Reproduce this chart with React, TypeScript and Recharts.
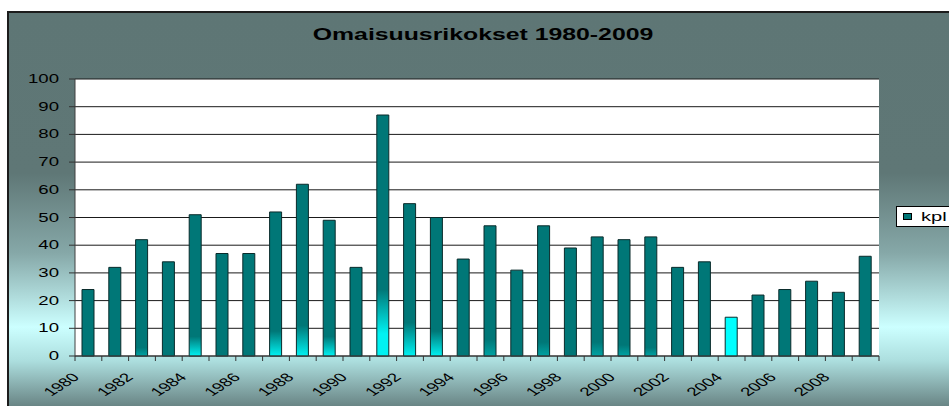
import { BarChart, Bar, XAxis, YAxis, CartesianGrid, Cell } from "recharts";

// Omaisuusrikokset vuosittain, pylvaat. Kuva on venytetty vaakasuunnassa,
// joten tekstit skaalataan scaleX:lla samaan tapaan.
const VUODET = [
  1980, 1981, 1982, 1983, 1984, 1985, 1986, 1987, 1988, 1989,
  1990, 1991, 1992, 1993, 1994, 1995, 1996, 1997, 1998, 1999,
  2000, 2001, 2002, 2003, 2004, 2005, 2006, 2007, 2008, 2009,
];
const KPL = [
  24, 32, 42, 34, 51, 37, 37, 52, 62, 49,
  32, 87, 55, 50, 35, 47, 31, 47, 39, 43,
  42, 43, 32, 34, 14, 22, 24, 27, 23, 36,
];
const Y_TICKS = [0, 10, 20, 30, 40, 50, 60, 70, 80, 90, 100];

// pylvaiden alaosan syaani hehku (korkeus yksikkoina), 0 = ei hehkua
const HOHTO = [
  0, 0, 3, 0, 7, 0, 0, 9, 11, 7,
  0, 24, 12, 9, 0, 6, 0, 5, 0, 5,
  4, 3, 0, 0, 0, 0, 0, 0, 0, 0,
];
const KOROSTETTU = 2004;

const TEAL = "#007777";
const SYAANI = "#00ffff";
const VENYTYS = 1.55;
const FONTTI = "'Liberation Sans', Arial, sans-serif";

const LEVEYS = 949;
const KORKEUS = 406;
const VASEN = 75;
const OIKEA = 879;
const PLOT_W = OIKEA - VASEN;

const data = VUODET.map((v, i) => ({ vuosi: String(v), kpl: KPL[i] }));

function VuosiTick(props: any) {
  const { x, y, payload, index } = props;
  const vali = PLOT_W / VUODET.length;
  const vuosi = Number(payload.value);
  return (
    <g>
      <line x1={x - vali / 2} x2={x - vali / 2} y1={y} y2={y + 5} stroke="#333" />
      {index === VUODET.length - 1 && (
        <line x1={x + vali / 2} x2={x + vali / 2} y1={y} y2={y + 5} stroke="#333" />
      )}
      {vuosi % 2 === 0 && (
        <text
          transform={`translate(${x - 8},${y + 22}) scale(${VENYTYS},1) rotate(-45)`}
          textAnchor="end"
          fontSize={12}
          fontFamily={FONTTI}
          fill="#000"
        >
          {payload.value}
        </text>
      )}
    </g>
  );
}

function LukuTick(props: any) {
  const { x, y, payload } = props;
  return (
    <text
      transform={`translate(${x},${y + 4}) scale(${VENYTYS},1)`}
      textAnchor="end"
      fontSize={12}
      fontFamily={FONTTI}
      fill="#000"
    >
      {payload.value}
    </text>
  );
}

function Selite() {
  return (
    <div
      style={{
        position: "absolute",
        left: 896,
        top: 206,
        boxSizing: "border-box",
        width: 70,
        height: 21,
        background: "#fff",
        border: "1px solid #000",
        display: "flex",
        alignItems: "center",
        paddingLeft: 6,
        fontFamily: FONTTI,
      }}
    >
      <span
        style={{
          boxSizing: "border-box",
          width: 9,
          height: 7,
          background: TEAL,
          border: "1px solid #000",
        }}
      />
      <span
        style={{
          marginLeft: 9,
          fontSize: 13,
          lineHeight: "13px",
          display: "inline-block",
          transform: `scaleX(${VENYTYS})`,
          transformOrigin: "left center",
        }}
      >
        kpl
      </span>
    </div>
  );
}

function tayttoVari(i: number) {
  if (VUODET[i] === KOROSTETTU) return SYAANI;
  if (HOHTO[i] > 0) return `url(#hohto-${i})`;
  return TEAL;
}

export default function App() {
  return (
    <div
      style={{
        position: "fixed",
        left: 0,
        top: 0,
        width: LEVEYS,
        height: KORKEUS,
        overflow: "hidden",
        background: "#fff",
        fontFamily: FONTTI,
      }}
    >
      <div
        style={{
          position: "absolute",
          left: 7,
          top: 11,
          width: 970,
          height: 400,
          border: "2px solid #1c1c1c",
          background:
            "linear-gradient(to bottom, #5e7675 0%, #5f7776 40%, #86a8a8 60%, #ccffff 78.5%, #acdede 87%, #657f7f 99%)",
        }}
      />
      <div
        style={{
          position: "absolute",
          left: 483,
          top: 27,
          fontSize: 16,
          lineHeight: "16px",
          fontWeight: "bold",
          whiteSpace: "nowrap",
          color: "#000",
          transform: `translateX(-50%) scaleX(${VENYTYS})`,
        }}
      >
        Omaisuusrikokset 1980-2009
      </div>
      <div style={{ position: "absolute", left: 0, top: 0 }}>
        <BarChart
          width={LEVEYS}
          height={KORKEUS}
          data={data}
          margin={{ top: 79, right: LEVEYS - OIKEA, bottom: 0, left: VASEN - 60 }}
        >
          <defs>
            {HOHTO.map((h, i) =>
              h > 0 ? (
                <linearGradient key={i} id={`hohto-${i}`} x1="0" y1="0" x2="0" y2="1">
                  <stop offset={Math.max(0, 1 - h / KPL[i])} stopColor={TEAL} />
                  <stop
                    offset={h >= 20 ? 1 - 8 / KPL[i] : 1}
                    stopColor={h >= 7 ? "#00f2f2" : "#00a3a3"}
                  />
                  <stop offset={1} stopColor={h >= 7 ? "#00f2f2" : "#00a3a3"} />
                </linearGradient>
              ) : null,
            )}
          </defs>
          <CartesianGrid vertical={false} stroke="#1a1a1a" fill="#fff" fillOpacity={1} />
          <XAxis
            dataKey="vuosi"
            height={50}
            interval={0}
            tickLine={false}
            tickSize={0}
            tickMargin={0}
            tick={<VuosiTick />}
            axisLine={{ stroke: "#404040" }}
          />
          <YAxis
            width={60}
            domain={[0, 100]}
            ticks={Y_TICKS}
            interval={0}
            tickSize={6}
            tickMargin={10}
            tickLine={{ stroke: "#333" }}
            axisLine={{ stroke: "#404040" }}
            tick={<LukuTick />}
          />
          <YAxis
            yAxisId="oikea"
            orientation="right"
            width={0}
            domain={[0, 100]}
            tick={false}
            tickLine={false}
            axisLine={{ stroke: "#808080" }}
          />
          <Bar dataKey="kpl" barSize={12} stroke="#0a2b2b" isAnimationActive={false}>
            {data.map((d, i) => (
              <Cell key={d.vuosi} fill={tayttoVari(i)} />
            ))}
          </Bar>
        </BarChart>
      </div>
      <Selite />
    </div>
  );
}
